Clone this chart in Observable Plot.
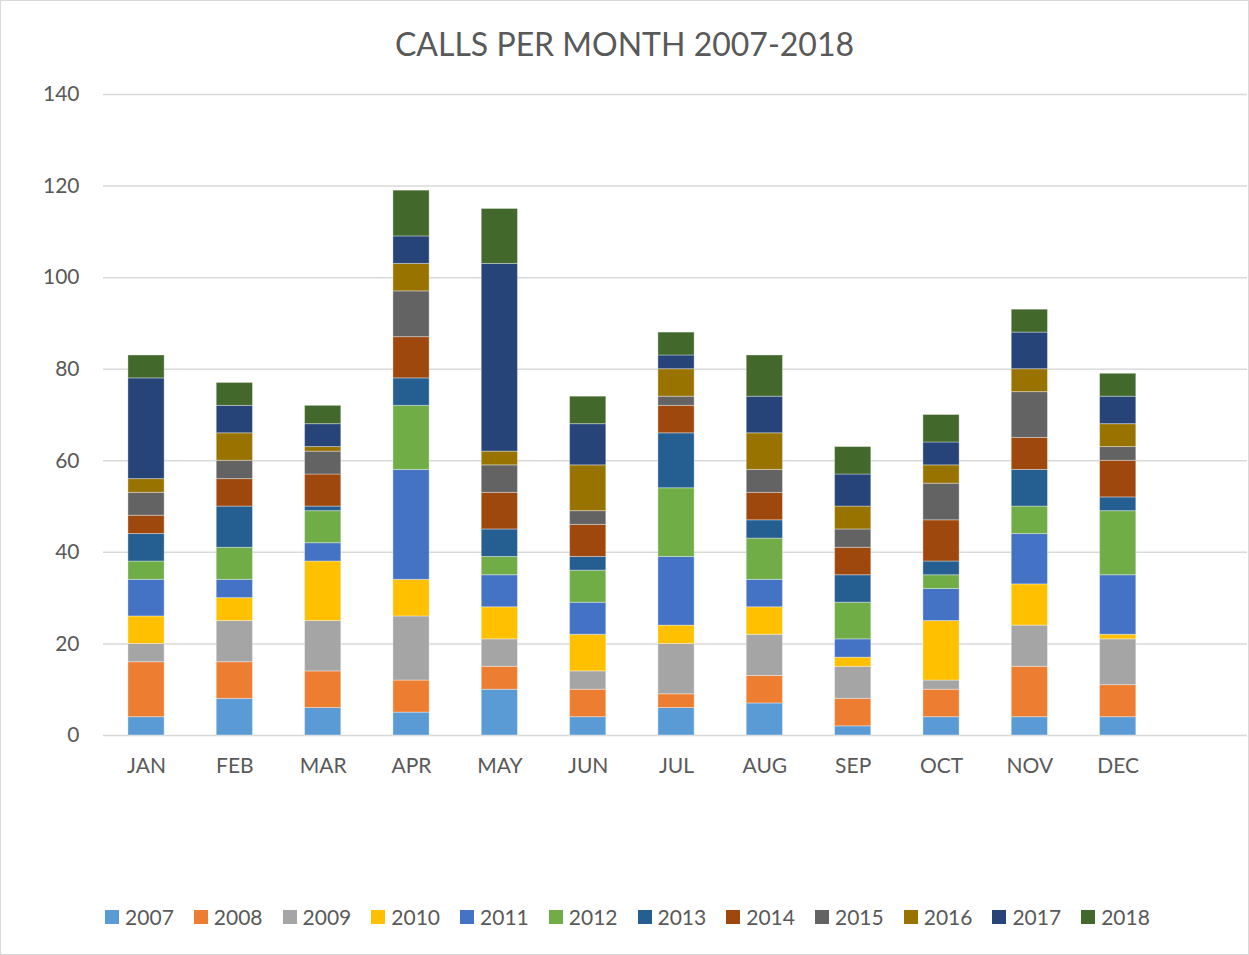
<!DOCTYPE html>
<html>
<head>
<meta charset="utf-8">
<script src="https://cdn.jsdelivr.net/npm/d3@7"></script>
<script src="https://cdn.jsdelivr.net/npm/@observablehq/plot@0.6"></script>
<style>
  html, body { margin: 0; padding: 0; background: #fff; }
  #wrap { position: relative; width: 1249px; height: 955px; font-family: Lato, "Open Sans", sans-serif; color: #595959; overflow: hidden; }
  #frame { position: absolute; left: 0; top: 0; width: 1249px; height: 955px; box-sizing: border-box; border: 1px solid #d9d9d9; pointer-events: none; }
  #title { height: 80px; line-height: 88px; text-align: center; font-size: 32px; color: #595959; }
  #chart svg { display: block; }
  #legend { position: absolute; left: 0; top: 905px; width: 1249px; display: flex; justify-content: center; gap: 20px; font-size: 21px; line-height: 24px; padding-left: 6px; box-sizing: border-box; }
  .item { display: flex; align-items: center; gap: 6px; }
  .sw { width: 14px; height: 14px; display: inline-block; }
</style>
</head>
<body>
<div id="wrap">
  <div id="title">CALLS PER MONTH 2007-2018</div>
  <div id="chart"></div>
  <div id="legend"></div>
  <div id="frame"></div>
</div>
<script>
const months = ["JAN","FEB","MAR","APR","MAY","JUN","JUL","AUG","SEP","OCT","NOV","DEC"];
const years = ["2007","2008","2009","2010","2011","2012","2013","2014","2015","2016","2017","2018"];
const colors = ["#5B9BD5","#ED7D31","#A5A5A5","#FFC000","#4472C4","#70AD47","#255E91","#9E480E","#636363","#997300","#264478","#43682B"];
const yTicks = [0, 20, 40, 60, 80, 100, 120, 140];

const s2007 = [4, 8, 6, 5, 10, 4, 6, 7, 2, 4, 4, 4];
const s2008 = [12, 8, 8, 7, 5, 6, 3, 6, 6, 6, 11, 7];
const s2009 = [4, 9, 11, 14, 6, 4, 11, 9, 7, 2, 9, 10];
const s2010 = [6, 5, 13, 8, 7, 8, 4, 6, 2, 13, 9, 1];
const s2011 = [8, 4, 4, 24, 7, 7, 15, 6, 4, 7, 11, 13];
const s2012 = [4, 7, 7, 14, 4, 7, 15, 9, 8, 3, 6, 14];
const s2013 = [6, 9, 1, 6, 6, 3, 12, 4, 6, 3, 8, 3];
const s2014 = [4, 6, 7, 9, 8, 7, 6, 6, 6, 9, 7, 8];
const s2015 = [5, 4, 5, 10, 6, 3, 2, 5, 4, 8, 10, 3];
const s2016 = [3, 6, 1, 6, 3, 10, 6, 8, 5, 4, 5, 5];
const s2017 = [22, 6, 5, 6, 41, 9, 3, 8, 7, 5, 8, 6];
const s2018 = [5, 5, 4, 10, 12, 6, 5, 9, 6, 6, 5, 5];

const seriesList = [s2007, s2008, s2009, s2010, s2011, s2012, s2013, s2014, s2015, s2016, s2017, s2018];
const table = [];
years.forEach((yr, i) => {
  months.forEach((m, j) => table.push({month: m, year: yr, value: seriesList[i][j]}));
});

const chart = Plot.plot({
  width: 1249,
  height: 700,
  marginTop: 14,
  marginBottom: 45,
  marginLeft: 103,
  marginRight: 2,
  style: {fontFamily: "Lato, 'Open Sans', sans-serif", fontSize: "21px", color: "#595959", background: "transparent"},
  x: {domain: months, range: [101.85, 1161.85], paddingInner: 0.59, paddingOuter: 0.295, align: 0.5, round: false, label: null},
  y: {domain: [0, 140], label: null},
  color: {domain: years, range: colors},
  marks: [
    Plot.gridY(yTicks, {stroke: "#d9d9d9", strokeOpacity: 1, strokeWidth: 1.5}),
    Plot.barY(table, {x: "month", y: "value", fill: "year", stroke: "#ffffff", strokeOpacity: 0.35, strokeWidth: 1, inset: 0}),
    Plot.axisY(yTicks, {tickSize: 0, tickPadding: 24, fill: "#595959", label: null}),
    Plot.axisX({tickSize: 0, tickPadding: 23, fill: "#595959", label: null})
  ]
});
document.getElementById("chart").appendChild(chart);

const legend = document.getElementById("legend");
years.forEach((yr, i) => {
  const it = document.createElement("div");
  it.className = "item";
  const sw = document.createElement("span");
  sw.className = "sw";
  sw.style.background = colors[i];
  const t = document.createElement("span");
  t.textContent = yr;
  it.appendChild(sw);
  it.appendChild(t);
  legend.appendChild(it);
});
</script>
</body>
</html>
